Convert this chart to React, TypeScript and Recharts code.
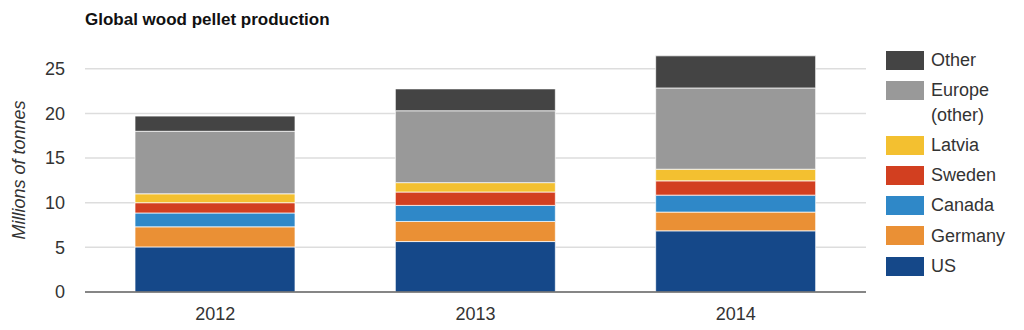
import { Bar, BarChart, CartesianGrid, Legend, XAxis, YAxis } from 'recharts';

const years = ['2012', '2013', '2014'];

// millions of tonnes
const us = [5.05, 5.65, 6.85];
const germany = [2.25, 2.25, 2.1];
const canada = [1.55, 1.8, 1.9];
const sweden = [1.15, 1.5, 1.6];
const latvia = [1.0, 1.05, 1.3];
const europeOther = [7.0, 8.05, 9.1];
const other = [1.7, 2.45, 3.6];

const yTicks = [0, 5, 10, 15, 20, 25];

const FONT = '"Liberation Sans", Arial, Helvetica, sans-serif';
const TEXT_COLOR = '#333333';

const series = [
  { key: 'us', name: 'US', color: '#154889', values: us },
  { key: 'germany', name: 'Germany', color: '#ea9035', values: germany },
  { key: 'canada', name: 'Canada', color: '#2f88c8', values: canada },
  { key: 'sweden', name: 'Sweden', color: '#d23f20', values: sweden },
  { key: 'latvia', name: 'Latvia', color: '#f3c030', values: latvia },
  { key: 'europe', name: 'Europe (other)', color: '#999999', values: europeOther },
  { key: 'other', name: 'Other', color: '#444444', values: other },
];

const data = years.map((year, i) => {
  const row: Record<string, string | number> = { year };
  series.forEach(s => {
    row[s.key] = s.values[i];
  });
  return row;
});

const renderLegend = () => (
  <div style={{ fontFamily: FONT, fontSize: 18, color: TEXT_COLOR, lineHeight: '24.5px' }}>
    {[...series].reverse().map(s => (
      <div key={s.key} style={{ display: 'flex', alignItems: 'flex-start', marginBottom: 5.8 }}>
        <div
          style={{
            width: 38,
            height: 19,
            marginTop: 2.75,
            background: s.color,
            flex: '0 0 auto',
          }}
        />
        <div style={{ marginLeft: 7, width: 86 }}>{s.name}</div>
      </div>
    ))}
  </div>
);

const renderYLabel = (props: any) => {
  const vb = props.viewBox || { y: 42, height: 250 };
  const cy = vb.y + vb.height / 2 + 3;
  return (
    <text
      x={25}
      y={cy}
      transform={`rotate(-90, 25, ${cy})`}
      textAnchor="middle"
      fontFamily={FONT}
      fontSize={18}
      fontStyle="italic"
      fill={TEXT_COLOR}
    >
      Millions of tonnes
    </text>
  );
};

export default function App() {
  return (
    <div style={{ position: 'absolute', left: 0, top: 0, width: 1024, height: 330, background: '#fff' }}>
      <div
        style={{
          position: 'absolute',
          left: 85,
          top: 10,
          fontFamily: FONT,
          fontSize: 17,
          fontWeight: 'bold',
          color: '#111',
          lineHeight: 'normal',
        }}
      >
        Global wood pellet production
      </div>
      <BarChart
        width={1024}
        height={330}
        data={data}
        margin={{ top: 42, right: 158, bottom: 0, left: 0 }}
        barSize={160}
      >
        <CartesianGrid vertical={false} stroke="#dddddd" strokeWidth={1.5} syncWithTicks />
        <XAxis
          dataKey="year"
          height={38}
          tickLine={false}
          tickSize={0}
          tickMargin={15}
          axisLine={{ stroke: '#666666', strokeWidth: 1.5 }}
          tick={{ fontFamily: FONT, fontSize: 18, fill: TEXT_COLOR }}
        />
        <YAxis
          width={85}
          domain={[0, 28]}
          ticks={yTicks}
          axisLine={false}
          tickLine={false}
          tickSize={0}
          tickMargin={20}
          tick={{ fontFamily: FONT, fontSize: 18, fill: TEXT_COLOR }}
          label={{ content: renderYLabel }}
        />
        {series.map(s => (
          <Bar
            key={s.key}
            dataKey={s.key}
            name={s.name}
            stackId="a"
            fill={s.color}
            stroke="#ffffff"
            strokeOpacity={0.7}
            strokeWidth={1}
            isAnimationActive={false}
          />
        ))}
        <Legend
          layout="vertical"
          align="center"
          verticalAlign="middle"
          content={renderLegend}
          wrapperStyle={{ position: 'absolute', left: 886, top: 47.75, width: 138 }}
        />
      </BarChart>
    </div>
  );
}
